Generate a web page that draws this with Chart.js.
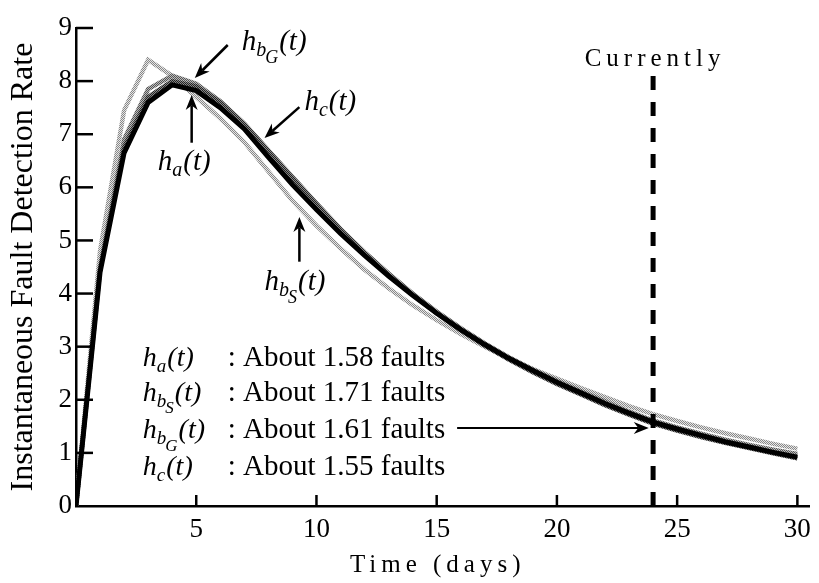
<!DOCTYPE html>
<html>
<head>
<meta charset="utf-8">
<script src="https://cdn.jsdelivr.net/npm/chart.js@4/dist/chart.umd.min.js"></script>
<style>
html, body { margin: 0; padding: 0; background: #fff; }
</style>
</head>
<body>
<canvas id="myChart" width="819" height="583"></canvas>
<script>
"use strict";

// valeurs (un point par jour)
const days = [0,1,2,3,4,5,6,7,8,9,10,11,12,13,14,15,16,17,18,19,20,21,22,23,24,25,26,27,28,29,30];
const hA  = [0,4.40,6.65,7.60,7.93,7.82,7.50,7.10,6.57,6.05,5.58,5.13,4.72,4.33,3.97,3.63,3.32,3.04,2.78,2.55,2.33,2.13,1.93,1.75,1.58,1.45,1.33,1.21,1.11,1.01,0.92];
const hBS = [0,4.80,7.45,8.40,8.10,7.70,7.30,6.85,6.30,5.75,5.28,4.85,4.45,4.10,3.78,3.50,3.24,3.00,2.78,2.58,2.40,2.22,2.05,1.88,1.73,1.60,1.48,1.37,1.27,1.17,1.08];
const hBG = [0,4.50,6.90,7.85,8.10,7.95,7.62,7.20,6.70,6.20,5.70,5.22,4.78,4.38,4.00,3.66,3.35,3.06,2.80,2.57,2.36,2.16,1.97,1.78,1.61,1.48,1.36,1.25,1.15,1.06,0.98];
const hC  = [0,4.45,6.75,7.70,8.00,7.90,7.60,7.18,6.68,6.17,5.68,5.20,4.76,4.35,3.98,3.63,3.31,3.02,2.76,2.52,2.30,2.10,1.90,1.72,1.55,1.42,1.30,1.19,1.09,0.99,0.90];

const xTicks = [5,10,15,20,25,30];
const yTicks = [1,2,3,4,5,6,7,8,9];
const currentDay = 24;
const currentTop = 8.1;

const legendRows = [
    { sub: "a", subsub: "",  text: ": About 1.58 faults" },
    { sub: "b", subsub: "S", text: ": About 1.71 faults" },
    { sub: "b", subsub: "G", text: ": About 1.61 faults" },
    { sub: "c", subsub: "",  text: ": About 1.55 faults" }
];

// étiquettes avec flèches (en unités de données)
const curveLabels = [
    { sub: "b", subsub: "G", at: [6.89, 8.59], from: [6.31, 8.68], to: [4.94, 8.06] },
    { sub: "c", subsub: "",  at: [9.50, 7.46], from: [9.29, 7.51], to: [7.84, 6.93] },
    { sub: "a", subsub: "",  at: [3.40, 6.33], from: [4.81, 6.84], to: [4.81, 7.74] },
    { sub: "b", subsub: "S", at: [7.84, 4.07], from: [9.29, 4.60], to: [9.29, 5.44] }
];

const SERIF = '"Liberation Serif", "Times New Roman", serif';

function toPoints(values){
    return days.map((d, i) => ({ x: d, y: values[i] }));
}

// motif tramé pour imiter les courbes grises de la figure
function halftone(dark, light){
    let c = document.createElement("canvas");
    c.width = 2; c.height = 2;
    let g = c.getContext("2d");
    g.fillStyle = light; g.fillRect(0, 0, 2, 2);
    g.fillStyle = dark; g.fillRect(0, 0, 1, 1); g.fillRect(1, 1, 1, 1);
    return g.createPattern(c, "repeat");
}

function drawH(ctx, x, y, sub, subsub, size){
    ctx.textAlign = "left";
    ctx.textBaseline = "alphabetic";
    ctx.font = "italic " + size + "px " + SERIF;
    ctx.fillText("h", x, y);
    let cx = x + ctx.measureText("h").width;
    ctx.font = "italic " + Math.round(size * 0.68) + "px " + SERIF;
    ctx.fillText(sub, cx, y + size * 0.22);
    let endX = cx + ctx.measureText(sub).width;
    if (subsub) {
        ctx.font = "italic " + Math.round(size * 0.62) + "px " + SERIF;
        ctx.fillText(subsub, endX - 1, y + size * 0.45);
        endX = endX - 1 + ctx.measureText(subsub).width;
    }
    ctx.font = "italic " + size + "px " + SERIF;
    ctx.fillText("(t)", endX + 1, y);
    return endX + 1 + ctx.measureText("(t)").width;
}

function arrow(ctx, x1, y1, x2, y2, width){
    let a = Math.atan2(y2 - y1, x2 - x1);
    let len = 15, half = 6;
    ctx.lineWidth = width;
    ctx.beginPath();
    ctx.moveTo(x1, y1);
    ctx.lineTo(x2 - Math.cos(a) * len * 0.7, y2 - Math.sin(a) * len * 0.7);
    ctx.stroke();
    ctx.save();
    ctx.translate(x2, y2);
    ctx.rotate(a);
    ctx.beginPath();
    ctx.moveTo(0, 0);
    ctx.lineTo(-len, -half);
    ctx.lineTo(-len * 0.7, 0);
    ctx.lineTo(-len, half);
    ctx.closePath();
    ctx.fill();
    ctx.restore();
}

const annotations = {
    id: "annotations",
    afterDatasetsDraw(chart){
        const ctx = chart.ctx;
        const xs = chart.scales.x, ys = chart.scales.y;
        const px = v => xs.getPixelForValue(v);
        const py = v => ys.getPixelForValue(v);
        ctx.save();
        ctx.fillStyle = "#000";
        ctx.strokeStyle = "#000";

        // graduations vers l'intérieur
        ctx.lineWidth = 2.5;
        yTicks.forEach(v => {
            ctx.beginPath();
            ctx.moveTo(xs.left, py(v));
            ctx.lineTo(xs.left + 17, py(v));
            ctx.stroke();
        });
        xTicks.forEach(v => {
            ctx.beginPath();
            ctx.moveTo(px(v), ys.bottom);
            ctx.lineTo(px(v), ys.bottom - 11);
            ctx.stroke();
        });

        // étiquettes des courbes
        curveLabels.forEach(l => {
            drawH(ctx, px(l.at[0]), py(l.at[1]), l.sub, l.subsub, 29);
            arrow(ctx, px(l.from[0]), py(l.from[1]), px(l.to[0]), py(l.to[1]), 2.5);
        });

        // légende
        const legendX = 2.78, colonX = 6.31;
        const rowsY = [2.64, 1.98, 1.28, 0.58];
        legendRows.forEach((r, i) => {
            drawH(ctx, px(legendX), py(rowsY[i]), r.sub, r.subsub, 28);
            ctx.font = "29px " + SERIF;
            ctx.fillText(r.text, px(colonX), py(rowsY[i]));
        });
        arrow(ctx, px(15.85), py(1.47), px(23.82), py(1.47), 2);

        // "Currently" et titre de l'axe x (espacés)
        ctx.textAlign = "center";
        ctx.font = "25px " + SERIF;
        ctx.letterSpacing = "5px";
        ctx.fillText("Currently", px(currentDay) + 2, py(8.29));
        ctx.fillText("Time (days)", px(15) + 1, 572);
        ctx.restore();
    }
};

const ctx = document.getElementById("myChart");

let chart = new Chart(ctx, {
    type: "line",
    data: {
        datasets: [
            {
                label: "Currently",
                data: [{ x: currentDay, y: 0 }, { x: currentDay, y: currentTop }],
                borderColor: "#000",
                borderWidth: 5,
                borderDash: [14, 12],
                pointRadius: 0
            },
            { label: "ha", data: toPoints(hA), borderColor: "#000", borderWidth: 5, pointRadius: 0, tension: 0 },
            { label: "hc", data: toPoints(hC), borderColor: halftone("#222", "#888"), borderWidth: 4.5, pointRadius: 0, tension: 0 },
            { label: "hbG", data: toPoints(hBG), borderColor: halftone("#555", "#bbb"), borderWidth: 4.5, pointRadius: 0, tension: 0 },
            { label: "hbS", data: toPoints(hBS), borderColor: halftone("#888", "#e6e6e6"), borderWidth: 4.5, pointRadius: 0, tension: 0 }
        ]
    },
    options: {
        responsive: false,
        animation: false,
        devicePixelRatio: 1,
        layout: { padding: { top: 28, right: 8, bottom: 0, left: 0 } },
        plugins: { legend: { display: false }, tooltip: { enabled: false } },
        scales: {
            x: {
                type: "linear",
                min: 0,
                max: 30.5,
                grid: { display: false, drawTicks: false },
                border: { display: true, color: "#000", width: 2.5 },
                ticks: { color: "#000", padding: 8, font: { family: SERIF, size: 27 } },
                afterBuildTicks: scale => { scale.ticks = xTicks.map(v => ({ value: v })); },
                afterFit: scale => { scale.height = 77; }
            },
            y: {
                min: 0,
                max: 9,
                grid: { display: false, drawTicks: false },
                border: { display: true, color: "#000", width: 2.5 },
                ticks: { color: "#000", padding: 4, stepSize: 1, font: { family: SERIF, size: 27 } },
                title: {
                    display: true,
                    text: "Instantaneous Fault Detection Rate",
                    color: "#000",
                    padding: { top: 4, bottom: 0 },
                    font: { family: SERIF, size: 32 }
                },
                afterFit: scale => { scale.width = 76; }
            }
        }
    },
    plugins: [annotations]
});
</script>
</body>
</html>
